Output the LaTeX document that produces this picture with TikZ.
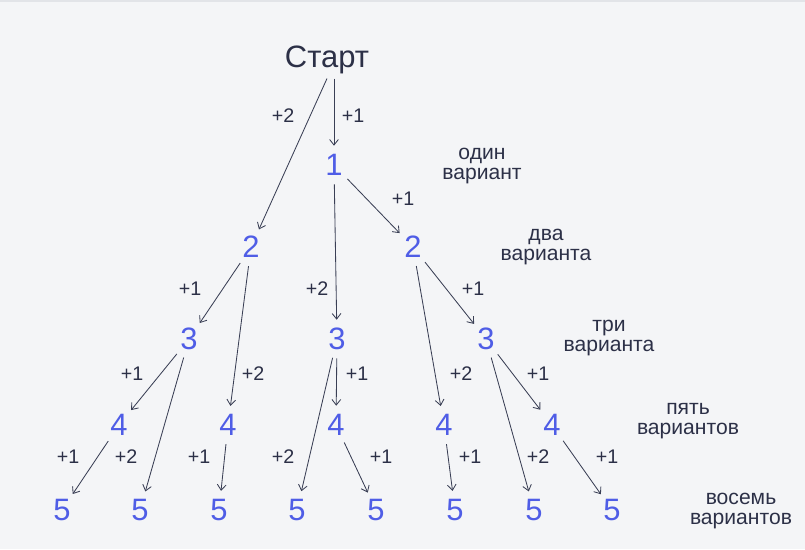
\documentclass[tikz,border=0pt]{standalone}
\usepackage{fontspec}
\setmainfont{Liberation Sans}
\usetikzlibrary{arrows.meta}

\definecolor{bgcol}{HTML}{F4F5F7}
\definecolor{rimcol}{HTML}{E2E4E8}
\definecolor{inkcol}{HTML}{2C3047}
\definecolor{numcol}{HTML}{4F5DE6}
\definecolor{linecol}{HTML}{3A3F55}

\tikzset{
  num/.style={circle, minimum size=0.95cm, inner sep=0pt, text=numcol,
    font=\fontsize{22}{22}\selectfont},
  lbl/.style={inner sep=0pt, text=inkcol, font=\fontsize{14}{14}\selectfont},
  note/.style={inner sep=0pt, text=inkcol, align=center,
    font=\fontsize{15}{14.2}\selectfont},
  link/.style={draw=linecol, line width=0.6pt,
    -{Straight Barb[length=1.4mm, width=2.2mm]}},
}

\begin{document}
\begin{tikzpicture}[x=0.025cm, y=-0.025cm]

        % page
        \fill[bgcol] (0,0) rectangle (805,549);
        \fill[rimcol] (0,0) rectangle (805,2);
        \useasboundingbox (0,0) rectangle (805,549);

        % tree
        \node[inner sep=3pt, text=inkcol, font=\fontsize{22}{22}\selectfont] (start) at (327,60) {Старт};
        \node[num] (n1) at (334,165) {1};
        \node[num] (n2a) at (251,247) {2};
        \node[num] (n2b) at (413,247) {2};
        \node[num] (n3a) at (189,339) {3};
        \node[num] (n3b) at (337,339) {3};
        \node[num] (n3c) at (486,339) {3};
        \node[num] (n4a) at (119,425) {4};
        \node[num] (n4b) at (228,425) {4};
        \node[num] (n4c) at (336,425) {4};
        \node[num] (n4d) at (444,425) {4};
        \node[num] (n4e) at (552,425) {4};
        \foreach \x [count=\i] in {62, 140, 219, 297, 376, 455, 534, 612} {
                \node[num] (n5-\i) at (\x,510) {5};
            }

        \draw[link] (start.south) -- (n2a);
        \draw[link] (start.south -| n1) -- (n1);
        \draw[link] (n1) -- (n3b);
        \draw[link] (n1) -- (n2b);
        \draw[link] (n2a) -- (n3a);
        \draw[link] (n2a) -- (n4b);
        \draw[link] (n2b) -- (n3c);
        \draw[link] (n2b) -- (n4d);
        \draw[link] (n3a) -- (n4a);
        \draw[link] (n3a) -- (n5-2);
        \draw[link] (n3b) -- (n4c);
        \draw[link] (n3b) -- (n5-4);
        \draw[link] (n3c) -- (n4e);
        \draw[link] (n3c) -- (n5-7);
        \draw[link] (n4a) -- (n5-1);
        \draw[link] (n4b) -- (n5-3);
        \draw[link] (n4c) -- (n5-5);
        \draw[link] (n4d) -- (n5-6);
        \draw[link] (n4e) -- (n5-8);

        % steps
        \foreach \x/\y/\t [count=\i] in {283/116/+2, 353/116/+1, 403/199/+1,
                317/289/+2, 190/289/+1, 473/289/+1,
                132/374/+1, 253/374/+2, 357/374/+1, 461/374/+2, 538/374/+1,
                68/457/+1, 126/457/+2, 199/457/+1, 283/457/+2,
                381/457/+1, 470/457/+1, 538/457/+2, 607/457/+1} {
                \node[lbl] (s\i) at (\x,\y) {\t};
            }

        % counts
        \node[note] (c1) at (482,166) {один\\вариант};
        \node[note] (c2) at (546,247) {два\\варианта};
        \node[note] (c3) at (609,338) {три\\варианта};
        \node[note] (c4) at (688,421) {пять\\вариантов};
        \node[note] (c5) at (741,511) {восемь\\вариантов};

    \end{tikzpicture}
\end{document}
